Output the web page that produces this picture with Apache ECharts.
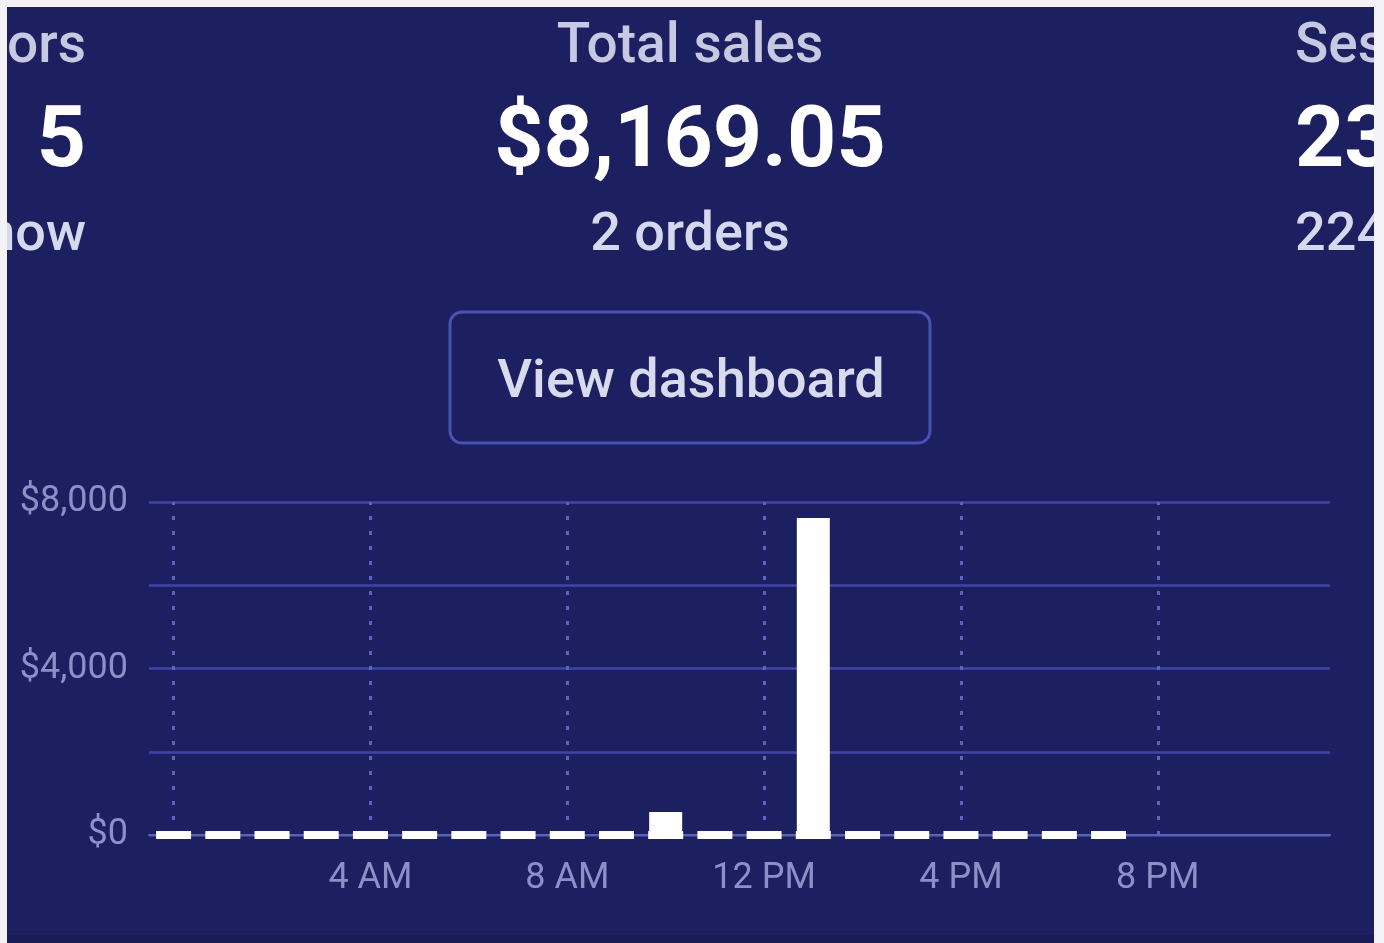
<!DOCTYPE html>
<html>
<head>
<meta charset="utf-8">
<style>
  html, body { margin: 0; padding: 0; background: #1c2061; }
  #chart { width: 1384px; height: 943px; }
</style>
<script src="https://cdn.jsdelivr.net/npm/echarts@6/dist/echarts.min.js"></script>
</head>
<body>
<div id="chart"></div>
<script>
// hourly categories of the live view
var hours = ['12 AM', '1 AM', '2 AM', '3 AM', '4 AM', '5 AM', '6 AM', '7 AM', '8 AM', '9 AM', '10 AM', '11 AM',
             '12 PM', '1 PM', '2 PM', '3 PM', '4 PM', '5 PM', '6 PM', '7 PM', '8 PM', '9 PM', '10 PM', '11 PM'];

// sales per hour (null = hour not reached yet)
var salesValues = [0, 0, 0, 0, 0, 0, 0, 0, 0, 0, 554, 0,
                   0, 7615, 0, 0, 0, 0, 0, 0, null, null, null, null];

// zero markers drawn for each elapsed hour
var baselineMarks = [0, 0, 0, 0, 0, 0, 0, 0, 0, 0, 0, 0,
                     0, 0, 0, 0, 0, 0, 0, 0, null, null, null, null];

// y tick labels (only every other gridline is labelled)
var yTickLabels = {0: '$0', 4000: '$4,000', 8000: '$8,000'};

// header stats
var statLabels = ['Visitors', 'Total sales', 'Sessions'];
var statValues = ['5', '$8,169.05', '23'];
var statNotes = ['right now', '2 orders', '224 visitors'];

var chart = echarts.init(document.getElementById('chart'));

var FONT = 'Roboto, "Noto Sans", sans-serif';

//表头文字
var colX = [86, 690, 1295];
var colAlign = ['right', 'center', 'left'];
var graphics = [];
for (var i = 0; i < colX.length; i++) {
    graphics.push({
        type: 'text', x: colX[i], y: 48,
        style: {text: statLabels[i], align: colAlign[i], verticalAlign: 'middle', font: '500 55px ' + FONT, fill: '#c7c9e2'}
    });
    graphics.push({
        type: 'text', x: colX[i], y: 144,
        style: {text: statValues[i], align: colAlign[i], verticalAlign: 'middle', font: 'bold 86px ' + FONT, fill: '#ffffff'}
    });
    graphics.push({
        type: 'text', x: colX[i], y: 236,
        style: {text: statNotes[i], align: colAlign[i], verticalAlign: 'middle', font: '500 54px ' + FONT, fill: '#d6d8ed'}
    });
}

// button
graphics.push({
    type: 'rect',
    shape: {x: 450, y: 312, width: 480, height: 131, r: 12},
    style: {fill: 'transparent', stroke: '#4a51b4', lineWidth: 3}
});
graphics.push({
    type: 'text', x: 691, y: 383,
    style: {text: 'View dashboard', align: 'center', verticalAlign: 'middle', font: '500 54px ' + FONT, fill: '#d8daee'}
});

// screenshot frame edges
graphics.push({type: 'rect', z: 100, shape: {x: 0, y: 0, width: 1384, height: 7}, style: {fill: '#f3f3f5'}});
graphics.push({type: 'rect', z: 100, shape: {x: 0, y: 0, width: 7, height: 943}, style: {fill: '#f3f3f5'}});
graphics.push({type: 'rect', z: 100, shape: {x: 1374, y: 0, width: 10, height: 943}, style: {fill: '#f3f3f5'}});
graphics.push({type: 'rect', z: 99, shape: {x: 7, y: 935, width: 1367, height: 8}, style: {fill: '#191c55'}});

var option = {
    backgroundColor: '#1c2061',
    animation: false,
    graphic: graphics,
    grid: {left: 149, right: 54, top: 502, bottom: 108},
    xAxis: {
        type: 'category',
        data: hours,
        boundaryGap: true,
        axisLine: {show: true, lineStyle: {color: '#5d63b2', width: 2}},
        axisTick: {
            show: true,
            inside: true,
            alignWithLabel: true,
            interval: 3,
            length: 333,
            lineStyle: {color: '#5b62c0', width: 3, type: [4, 11]}
        },
        axisLabel: {
            interval: 3,
            margin: 26,
            color: '#8b90c7',
            fontSize: 36,
            fontFamily: FONT,
            formatter: function (v, idx) { return idx === 0 ? '' : v; }
        },
        splitLine: {show: false}
    },
    yAxis: {
        type: 'value',
        min: 0,
        max: 8000,
        interval: 2000,
        axisLine: {show: false},
        axisTick: {show: false},
        axisLabel: {
            margin: 21,
            color: '#8b90c7',
            fontSize: 36,
            fontFamily: FONT,
            formatter: function (v) { return yTickLabels[v] || ''; }
        },
        splitLine: {lineStyle: {color: '#3e45a8', width: 2.5}}
    },
    series: [
        {
            name: 'Sales',
            type: 'bar',
            data: salesValues,
            barWidth: 33,
            itemStyle: {color: '#ffffff'},
            z: 3
        },
        {
            name: 'Baseline',
            type: 'scatter',
            data: baselineMarks,
            symbol: 'rect',
            symbolSize: [35, 8],
            itemStyle: {color: '#ffffff', opacity: 1},
            z: 4
        }
    ]
};

chart.setOption(option);
</script>
</body>
</html>
